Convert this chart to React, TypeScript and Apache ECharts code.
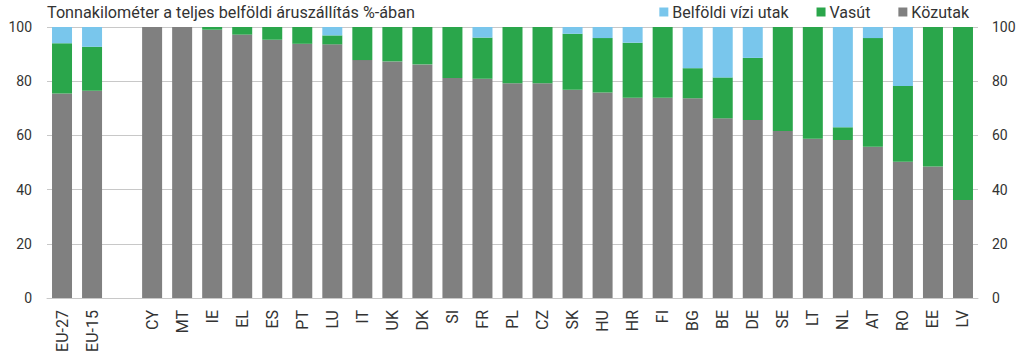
import React, { useEffect, useRef } from "react";
import * as echarts from "echarts";

const categories = ["EU-27", "EU-15", "", "CY", "MT", "IE", "EL", "ES", "PT", "LU", "IT", "UK", "DK", "SI", "FR", "PL", "CZ", "SK", "HU", "HR", "FI", "BG", "BE", "DE", "SE", "LT", "NL", "AT", "RO", "EE", "LV"];
const road = [75.5, 76.5, null, 100, 100, 99, 97.2, 95.3, 93.8, 93.6, 87.8, 87.3, 86.2, 81.2, 80.9, 79.2, 79.2, 76.8, 75.8, 73.9, 73.9, 73.7, 66.3, 65.7, 61.6, 58.8, 58.3, 55.8, 50.3, 48.5, 36.2];
const rail = [18.5, 16.2, null, 0, 0, 1, 2.8, 4.7, 6.2, 3.3, 12.2, 12.7, 13.8, 18.8, 15.2, 20.8, 20.8, 20.7, 20.1, 20.3, 26.1, 11.1, 15.1, 22.9, 38.4, 41.2, 4.7, 40.1, 27.9, 51.5, 63.8];
const water = [6, 7.3, null, 0, 0, 0, 0, 0, 0, 3.1, 0, 0, 0, 0, 3.9, 0, 0, 2.5, 4.1, 5.8, 0, 15.2, 18.6, 11.4, 0, 0, 37, 4.1, 21.8, 0, 0];
const yTicks = { min: 0, max: 100, interval: 20 };

const FONT = "Roboto, 'Open Sans', sans-serif";
const TEXT = "#333333";

export default function App() {
  const ref = useRef<HTMLDivElement>(null);
  useEffect(() => {
    const chart = echarts.init(ref.current!, null, { renderer: "svg" });
    const yAxisBase = {
      type: "value" as const,
      min: yTicks.min,
      max: yTicks.max,
      interval: yTicks.interval,
      axisLine: { show: false },
      axisTick: { show: false },
      splitLine: { show: true, lineStyle: { color: "#c8c8c8", width: 1 } },
    };
    chart.setOption({
      animation: false,
      textStyle: { fontFamily: FONT },
      title: {
        text: "Tonnakilométer a teljes belföldi áruszállítás %-ában",
        left: 42,
        top: -1,
        textStyle: { fontFamily: FONT, fontSize: 16.2, fontWeight: "normal", color: TEXT },
      },
      legend: {
        right: 50,
        top: -1,
        itemWidth: 9,
        itemHeight: 9,
        itemGap: 28,
        icon: "rect",
        textStyle: { fontFamily: FONT, fontSize: 16, color: TEXT, padding: [0, 0, 0, -1] },
        data: ["Belföldi vízi utak", "Vasút", "Közutak"],
      },
      grid: { left: 47, right: 46, top: 27, bottom: 65, containLabel: false },
      xAxis: {
        type: "category",
        data: categories,
        axisLine: { show: true, lineStyle: { color: "#c8c8c8" } },
        axisTick: { show: false },
        axisLabel: { rotate: 90, interval: 0, fontSize: 16, color: TEXT, fontFamily: FONT, margin: 12 },
      },
      yAxis: [
        { ...yAxisBase, position: "left", axisLabel: { fontSize: 14, color: TEXT, fontFamily: FONT, margin: 15 } },
        { ...yAxisBase, position: "right", splitLine: { show: false }, axisLabel: { fontSize: 14, color: TEXT, fontFamily: FONT, margin: 14 } },
      ],
      series: [
        { name: "Közutak", type: "bar", stack: "t", data: road, barWidth: 20, itemStyle: { color: "#808080" } },
        { name: "Vasút", type: "bar", stack: "t", data: rail, barWidth: 20, itemStyle: { color: "#2aa64b" } },
        { name: "Belföldi vízi utak", type: "bar", stack: "t", data: water, barWidth: 20, itemStyle: { color: "#79c6ec" } },
      ],
    });
    return () => chart.dispose();
  }, []);
  return <div ref={ref} style={{ width: 1024, height: 363, position: "absolute", left: 0, top: 0 }} />;
}
